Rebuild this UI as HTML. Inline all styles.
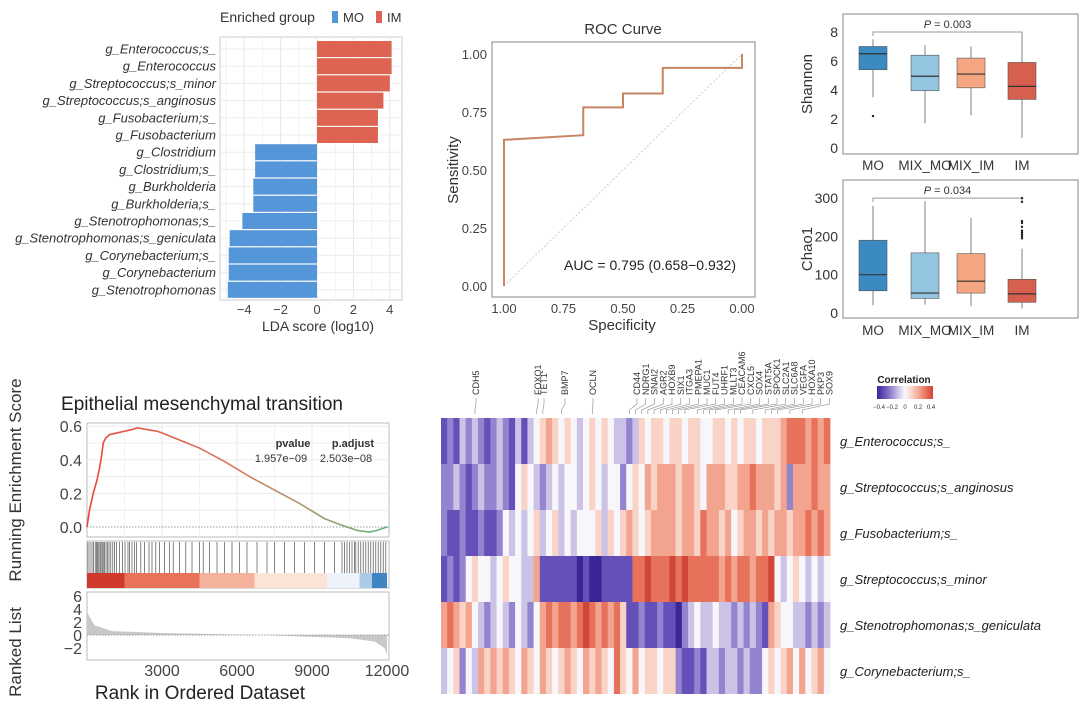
<!DOCTYPE html>
<html><head><meta charset="utf-8"><style>
body{margin:0;background:#fff}
svg{display:block;font-family:"Liberation Sans",sans-serif}
</style></head><body>
<svg id="fig" width="1080" height="716" viewBox="0 0 1080 716" xmlns="http://www.w3.org/2000/svg">
<g id="lda"></g>
<g id="roc"></g>
<g id="box"></g>
<g id="gsea"></g>
<g id="heat"></g>
</svg>
<script>
// ---------- data ----------
const ldaTaxa=["g_Enterococcus;s_","g_Enterococcus","g_Streptococcus;s_minor","g_Streptococcus;s_anginosus","g_Fusobacterium;s_","g_Fusobacterium","g_Clostridium","g_Clostridium;s_","g_Burkholderia","g_Burkholderia;s_","g_Stenotrophomonas;s_","g_Stenotrophomonas;s_geniculata","g_Corynebacterium;s_","g_Corynebacterium","g_Stenotrophomonas"];
const ldaScores=[4.1,4.1,4.0,3.65,3.35,3.35,-3.4,-3.4,-3.5,-3.5,-4.1,-4.8,-4.85,-4.85,-4.9];
const ldaTicks=[-4,-2,0,2,4];
const rocSpec=[1,1,0.667,0.667,0.5,0.5,0.333,0.333,0,0];
const rocSens=[0,0.63,0.65,0.77,0.77,0.83,0.83,0.94,0.94,1];
const rocTicks=[0,0.25,0.5,0.75,1];
const boxGroups=["MO","MIX_MO","MIX_IM","IM"];
const shannonStats=[[3.5,5.4,6.5,7.0,7.5],[1.7,3.95,4.95,6.4,7.1],[2.25,4.15,5.1,6.2,7.0],[0.7,3.35,4.25,5.9,7.9]];
const shannonOut=[[2.2],[],[],[]];
const shannonTicks=[0,2,4,6,8];
const chaoStats=[[20,58,100,190,280],[22,38,52,157,292],[18,52,83,155,248],[12,28,50,88,168]];
const chaoOut=[[],[],[],[195,200,205,210,215,225,235,240,290,300]];
const chaoTicks=[0,100,200,300];
const esRank=[0,100,250,400,500,580,650,750,900,1200,1500,1800,2000,2400,2800,3000,3500,4500,5500,6500,7500,8500,9500,10200,10800,11300,11600,12000];
const esVal=[0,0.1,0.2,0.28,0.35,0.42,0.5,0.53,0.55,0.56,0.57,0.58,0.59,0.58,0.57,0.56,0.53,0.47,0.39,0.30,0.22,0.14,0.05,0.01,-0.02,-0.03,-0.02,0.0];
const hitRanks=[40,120,200,260,330,380,420,470,520,560,610,650,700,760,820,880,950,1030,1100,1180,1300,1420,1520,1640,1700,1800,1900,1980,2150,2300,2480,2600,2750,2900,3100,3300,3450,3700,3950,4200,4500,4650,4900,5200,5500,5800,6100,6400,6800,7200,7500,7900,8300,8700,9100,9500,9900,10200,10300,10400,10500,10600,10700,10750,10850,10950,11050,11150,11250,11350,11450,11550,11650,11750,11850,11950];
const bandStart=[0,1500,4500,6700,9600,10900,11400];
const bandEnd=[1500,4500,6700,9600,10900,11400,12000];
const bandColor=["#d03a2c","#e8735a","#f4b29a","#fbe3d6","#eef2fb","#a9cbe6","#3f85c3"];
const rankX=[0,300,1000,3000,7000,10500,11500,11900,12000];
const rankV=[3.5,1.5,0.6,0.3,0,-0.5,-1,-2,-3];
const rankTicks=[3000,6000,9000,12000];
const heatRows=["g_Enterococcus;s_","g_Streptococcus;s_anginosus","g_Fusobacterium;s_","g_Streptococcus;s_minor","g_Stenotrophomonas;s_geniculata","g_Corynebacterium;s_"];
const heatData=[
"121323212321313456545434545433235455455455445545455455567776767",
"223212322321454323434434543442454656665665466655667666562666766",
"211211211243434534534344453545654566665665766564566565665667676",
"121245443454433611111101001111177877787877777676776778434543434",
"676564323432432467677678767675112112110234334332323216544332323",
"345243656565465465456546565475464554552112133233232245456464564"];
const heatGenes=["CDH5","FOXQ1","TET1","BMP7","OCLN","CD44","NDRG1","SNAI2","AGR2","HOXB9","SIX1","ITGA3","PMEPA1","MUC1","FUT4","UHRF1","MLLT3","CEACAM6","CXCL5","SOX4","STAT5A","SPOCK1","SLC2A1","SLC6A8","VEGFA","HOXA10","PKP3","SOX9"];
const heatGeneCol=[5,15,16,19,24,30,31,32,33,34,35,36,37,38,39,41,42,43,44,46,47,48,50,52,53,54,56,58];
const legendTicks=[-0.4,-0.2,0,0.2,0.4];
// ---------- helpers ----------
const NS="http://www.w3.org/2000/svg";
function mk(tag,parent,attrs,txt){const e=document.createElementNS(NS,tag);for(const k in attrs)e.setAttribute(k,attrs[k]);if(txt!==undefined)e.textContent=txt;parent.appendChild(e);return e;}
// ---------- LDA ----------
(function(){
const g=document.getElementById('lda');
const x=v=>317+v*18.2, y=i=>49+i*17.2;
let e=mk('rect',g,{x:220,y:37,width:182,height:263,fill:'#fff',stroke:'#ccc'});

for(let v=-5;v<=4;v++){e=mk('line',g,{x1:x(v),x2:x(v),y1:37,y2:300,stroke:v%2===0?'#e6e6e6':'#f2f2f2'});}
ldaTaxa.forEach((t,i)=>{
 e=mk('line',g,{x1:220,x2:402,y1:y(i),y2:y(i),stroke:'#ececec'});
 const v=ldaScores[i];
 e=mk('rect',g,{x:Math.min(x(0),x(v)),y:y(i)-8,width:Math.abs(x(v)-x(0)),height:16,fill:v>0?'#dd6352':'#5596d8'});
 
 e=mk('text',g,{x:216,y:y(i)+4.5,'text-anchor':'end','font-size':13,'font-style':'italic',fill:'#333'},t);
 
});
ldaTicks.forEach(t=>{e=mk('text',g,{x:x(t),y:314,'text-anchor':'middle','font-size':13,fill:'#444'},t<0?'\u2212'+(-t):t);});
e=mk('text',g,{x:318,y:331,'text-anchor':'middle','font-size':14,fill:'#333'},'LDA score (log10)');
e=mk('text',g,{x:220,y:22,'font-size':14,fill:'#333'},'Enriched group');
e=mk('rect',g,{x:332,y:11,width:6,height:12,fill:'#5596d8'});
e=mk('text',g,{x:343,y:22,'font-size':13,fill:'#333'},'MO');
e=mk('rect',g,{x:376,y:11,width:6,height:12,fill:'#dd6352'});
e=mk('text',g,{x:387,y:22,'font-size':13,fill:'#333'},'IM');
})();
// ---------- ROC ----------
(function(){
const g=document.getElementById('roc');
const x=s=>742-s*238, y=v=>286-v*232;
let e=mk('text',g,{x:623,y:34,'text-anchor':'middle','font-size':15,fill:'#333'},'ROC Curve');
e=mk('rect',g,{x:492,y:42,width:263,height:255,fill:'#fff',stroke:'#999','stroke-width':1.2});
e=mk('line',g,{x1:x(1),y1:y(0),x2:x(0),y2:y(1),stroke:'#ccc','stroke-dasharray':'2,2'});
rocTicks.forEach(t=>{
 e=mk('text',g,{x:487,y:y(t)+5,'text-anchor':'end','font-size':13,fill:'#444'},t.toFixed(2));
 e=mk('text',g,{x:x(t),y:313,'text-anchor':'middle','font-size':13,fill:'#444'},t.toFixed(2));
});
const pts=rocSpec.map((s,i)=>x(s)+','+y(rocSens[i])).join(' ');
e=mk('polyline',g,{points:pts,fill:'none',stroke:'#c98463','stroke-width':2});
e=mk('text',g,{x:622,y:330,'text-anchor':'middle','font-size':15,fill:'#333'},'Specificity');
e=mk('text',g,{x:0,y:0,transform:'translate(458,170) rotate(-90)','text-anchor':'middle','font-size':15,fill:'#333'},'Sensitivity');
e=mk('text',g,{x:650,y:270,'text-anchor':'middle','font-size':14,fill:'#222'},'AUC = 0.795 (0.658\u22120.932)');
})();
// ---------- Boxplots ----------
(function(){
const g=document.getElementById('box');
const cols=['#3b8bc2','#93c4e0','#f4a582','#d6604d'];
const cx=[873,925,971,1022];
function panel(top,bot,y0px,ppu,stats,outs,ticks,title,pval,bracketV,labY,name){
 const y=v=>y0px-v*ppu;
 let e=mk('rect',g,{x:843,y:top,width:235,height:bot-top,fill:'#fff',stroke:'#999','stroke-width':1.2});
 ticks.forEach(t=>{e=mk('text',g,{x:838,y:y(t)+5,'text-anchor':'end','font-size':14,fill:'#333'},t);});
 e=mk('text',g,{x:0,y:0,transform:`translate(812,${(top+bot)/2}) rotate(-90)`,'text-anchor':'middle','font-size':15,fill:'#333'},title);
 const by=y(bracketV);
 e=mk('path',g,{d:`M${cx[0]},${by+4}V${by}H${cx[3]}V${by+4}`,fill:'none',stroke:'#999'});
 e=mk('text',g,{x:(cx[0]+cx[3])/2,y:by-4,'text-anchor':'middle','font-size':11,fill:'#333'});
 mk('tspan',e,{'font-style':'italic'},'P');mk('tspan',e,{},' = '+pval);
 stats.forEach((s,i)=>{
  e=mk('line',g,{x1:cx[i],x2:cx[i],y1:y(s[0]),y2:y(s[4]),stroke:'#aaa','stroke-width':1.5});
  e=mk('rect',g,{x:cx[i]-14,y:y(s[3]),width:28,height:y(s[1])-y(s[3]),fill:cols[i],stroke:'#555','stroke-width':0.6});
  e=mk('line',g,{x1:cx[i]-14,x2:cx[i]+14,y1:y(s[2]),y2:y(s[2]),stroke:'#333','stroke-width':1.2});
  outs[i].forEach(o=>{e=mk('circle',g,{cx:cx[i],cy:y(o),r:1.2,fill:'#222'});});
  e=mk('text',g,{x:cx[i],y:labY,'text-anchor':'middle','font-size':13.5,fill:'#333'},boxGroups[i]);
 });
}
panel(14,154,148,14.5,shannonStats,shannonOut,shannonTicks,'Shannon','0.003',8,170,'shannon');
panel(180,318,313,0.383,chaoStats,chaoOut,chaoTicks,'Chao1','0.034',300,335,'chao1');
})();
// ---------- GSEA ----------
(function(){
const g=document.getElementById('gsea');
const x=r=>87+r*0.025;
const ey=v=>527-v*168;
const ry=v=>635-v*6.5;
let e=mk('text',g,{x:202,y:410,'text-anchor':'middle','font-size':19,fill:'#222'},'Epithelial mesenchymal transition');
e=mk('rect',g,{x:87,y:423,width:302,height:114,fill:'#fff',stroke:'#bbb'});
[1500,3000,4500,6000,7500,9000,10500].forEach(r=>{e=mk('line',g,{x1:x(r),x2:x(r),y1:423,y2:537,stroke:r%3000===0?'#e8e8e8':'#f3f3f3'});});
[0.1,0.2,0.3,0.4,0.5,0.6].forEach(v=>{e=mk('line',g,{x1:87,x2:389,y1:ey(v),y2:ey(v),stroke:'#ececec'});});
e=mk('line',g,{x1:87,x2:389,y1:ey(0),y2:ey(0),stroke:'#999','stroke-dasharray':'1.5,1.5'});
const defs=mk('defs',g,{});const lg=mk('linearGradient',defs,{id:'esg',x1:0,x2:1,y1:0,y2:0});
mk('stop',lg,{offset:'0','stop-color':'#e8453c'});mk('stop',lg,{offset:'0.5','stop-color':'#d77a5a'});mk('stop',lg,{offset:'0.75','stop-color':'#a89a70'});mk('stop',lg,{offset:'1','stop-color':'#5fb37a'});
e=mk('polyline',g,{points:esRank.map((r,i)=>x(r)+','+ey(esVal[i])).join(' '),fill:'none',stroke:'url(#esg)','stroke-width':1.6});
[0,0.2,0.4,0.6].forEach(t=>{e=mk('text',g,{x:82,y:ey(t)+6,'text-anchor':'end','font-size':16,fill:'#444'},t.toFixed(1));});
e=mk('text',g,{x:293,y:447,'text-anchor':'middle','font-size':11,'font-weight':'bold',fill:'#333'},'pvalue');
e=mk('text',g,{x:353,y:447,'text-anchor':'middle','font-size':11,'font-weight':'bold',fill:'#333'},'p.adjust');
e=mk('text',g,{x:281,y:462,'text-anchor':'middle','font-size':11,fill:'#333'},'1.957e\u221209');
e=mk('text',g,{x:346,y:462,'text-anchor':'middle','font-size':11,fill:'#333'},'2.503e\u221208');
e=mk('rect',g,{x:87,y:541,width:302,height:47,fill:'#fff',stroke:'#bbb'});
hitRanks.forEach(r=>{e=mk('line',g,{x1:x(r),x2:x(r),y1:542,y2:573,stroke:'#333','stroke-width':0.8,'stroke-opacity':0.75});});
bandStart.forEach((s,i)=>{e=mk('rect',g,{x:x(s),y:573,width:x(bandEnd[i])-x(s),height:15,fill:bandColor[i]});});
e=mk('rect',g,{x:87,y:592,width:302,height:68,fill:'#fff',stroke:'#bbb'});
e=mk('path',g,{d:'M'+x(0)+','+ry(0)+rankX.map((r,i)=>'L'+x(r)+','+ry(rankV[i])).join('')+'L'+x(12000)+','+ry(0)+'Z',fill:'#c8c8c8'});
e=mk('line',g,{x1:87,x2:389,y1:ry(0),y2:ry(0),stroke:'#999','stroke-dasharray':'1.5,1.5'});
[6,4,2,0,-2].forEach(t=>{e=mk('text',g,{x:82,y:ry(t)+6,'text-anchor':'end','font-size':16,fill:'#444'},t<0?'\u2212'+(-t):t);});
rankTicks.forEach(t=>{e=mk('text',g,{x:x(t),y:676,'text-anchor':'middle','font-size':16,fill:'#444'},t);});
e=mk('text',g,{x:200,y:699,'text-anchor':'middle','font-size':19,fill:'#222'},'Rank in Ordered Dataset');
e=mk('text',g,{x:0,y:0,transform:'translate(21,480) rotate(-90)','text-anchor':'middle','font-size':17,fill:'#333'},'Running Enrichment Score');
e=mk('text',g,{x:0,y:0,transform:'translate(21,652) rotate(-90)','text-anchor':'middle','font-size':17,fill:'#333'},'Ranked List');
})();
// ---------- Heatmap ----------
(function(){
const g=document.getElementById('heat');
const stops=['#3a2596','#6550ba','#9483cf','#cbc2e6','#f7f7fb','#f9d3c6','#f2a48f','#e6725c','#d2453a'];
const x0=441,x1=830,y0=418,rh=46;
const ncol=heatData[0].length, cw=(x1-x0)/ncol;
heatData.forEach((row,ri)=>{
 for(let c=0;c<ncol;c++){
  const e=mk('rect',g,{x:x0+c*cw,y:y0+ri*rh,width:cw+0.4,height:rh,fill:stops[+row[c]]});
  
  
 }
 const t=mk('text',g,{x:840,y:y0+ri*rh+rh/2+5,'font-size':13,'font-style':'italic',fill:'#222'},heatRows[ri]);
 
 
});
heatGenes.forEach((gn,i)=>{
 const cxp=x0+(heatGeneCol[i]+0.5)*cw;
 let lx=cxp;
 if(i>=5){lx=637+(i-5)*8.75;}
 if(i===1)lx=538; if(i===2)lx=544; if(i===3)lx=565; if(i===4)lx=593; if(i===0)lx=476;
 let e=mk('path',g,{d:`M${lx},398L${lx},404L${cxp},410L${cxp},414`,fill:'none',stroke:'#888','stroke-width':0.6});
 
 
 e=mk('text',g,{x:0,y:0,transform:`translate(${lx+3},395) rotate(-90)`,'font-size':9,fill:'#333'},gn);
 
 
});
const defs=mk('defs',g,{});const lg=mk('linearGradient',defs,{id:'cg',x1:0,x2:1,y1:0,y2:0});
stops.forEach((s,i)=>mk('stop',lg,{offset:i/(stops.length-1),'stop-color':s}));
let e=mk('text',g,{x:904,y:383,'text-anchor':'middle','font-size':10,'font-weight':'bold',fill:'#222'},'Correlation');

e=mk('rect',g,{x:877,y:386,width:56,height:13,fill:'url(#cg)'});

legendTicks.forEach((t,i)=>{const tx=mk('text',g,{x:879+i*13,y:409,'text-anchor':'middle','font-size':6,fill:'#333'},t===0?'0':(t<0?'\u2212'+(-t):t));
 
 });
})();
</script>
</body></html>
